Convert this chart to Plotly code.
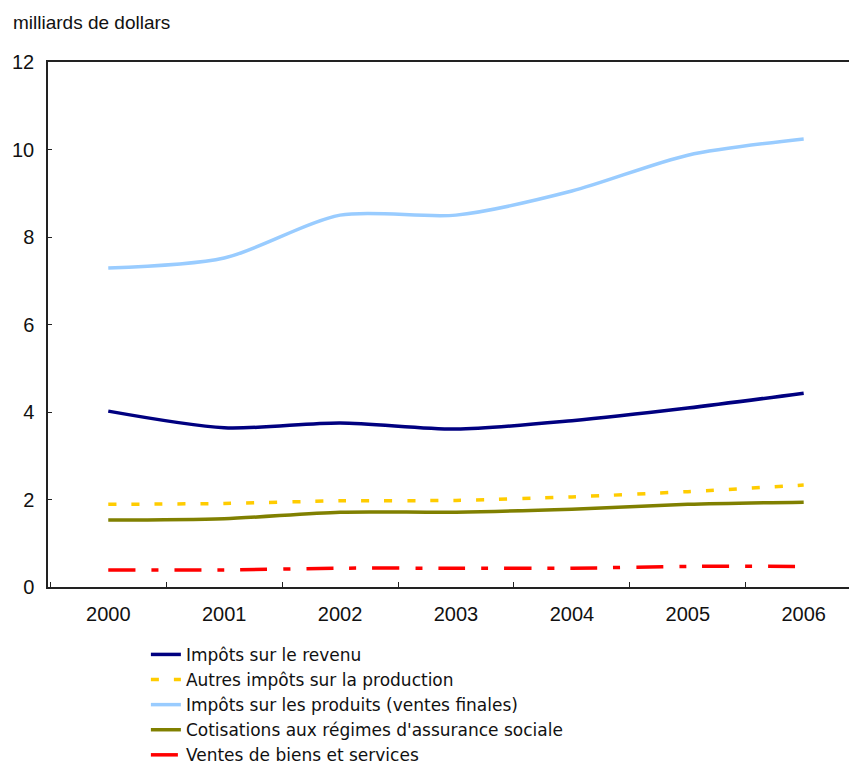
import plotly.graph_objects as go

years = ["2000", "2001", "2002", "2003", "2004", "2005", "2006"]
impots_revenu = [4.02, 3.64, 3.75, 3.61, 3.80, 4.09, 4.43]
autres_impots = [1.89, 1.91, 1.97, 1.98, 2.06, 2.18, 2.33]
impots_produits = [7.29, 7.52, 8.50, 8.50, 9.05, 9.87, 10.24]
cotisations = [1.53, 1.56, 1.71, 1.71, 1.78, 1.89, 1.94]
ventes = [0.39, 0.39, 0.43, 0.43, 0.43, 0.47, 0.47]

series = [
    ("Impôts sur le revenu", impots_revenu, "#000080", "solid"),
    ("Autres impôts sur la production", autres_impots, "#FFCC00", "8px,15px"),
    ("Impôts sur les produits (ventes finales)", impots_produits, "#99CCFF", "solid"),
    ("Cotisations aux régimes d'assurance sociale", cotisations, "#808000", "solid"),
    ("Ventes de biens et services", ventes, "#FF0000", "27px,16px,7px,16px"),
]

fig = go.Figure()
for name, vals, color, dash in series:
    fig.add_trace(go.Scatter(
        x=years, y=vals, name=name, mode="lines",
        line=dict(color=color, width=3.5, dash=dash, shape="spline", smoothing=0.8),
    ))

# page body has an 8px default margin; figure is sized/offset to compensate
fig.update_layout(
    width=849, height=756,
    margin=dict(l=40, r=0, t=54, b=177, autoexpand=False),
    paper_bgcolor="white", plot_bgcolor="white",
    font=dict(family="Liberation Sans, Arial, sans-serif", size=20, color="#111"),
    showlegend=True,
    legend=dict(
        x=0.121, y=-0.095, xanchor="left", yanchor="top",
        orientation="v", bgcolor="rgba(0,0,0,0)",
        font=dict(size=17, family="DejaVu Sans, sans-serif"),
        tracegroupgap=0, itemwidth=30,
    ),
    xaxis=dict(
        type="category", range=[-0.52, 6.46], automargin=False,
        showline=True, linecolor="#222", linewidth=1.5, mirror=True,
        ticks="inside", ticklen=5, tickcolor="#222", tickson="boundaries",
        showgrid=False, zeroline=False, ticklabelstandoff=8,
    ),
    yaxis=dict(
        range=[0, 12], tickvals=[0, 2, 4, 6, 8, 10, 12], automargin=False,
        showline=True, linecolor="#222", linewidth=1.5,
        ticks="inside", ticklen=4, tickcolor="#222",
        showgrid=False, zeroline=False, ticklabelstandoff=8,
    ),
    annotations=[dict(
        text="milliards de dollars", xref="paper", yref="paper",
        x=-0.046, y=1.076, xanchor="left", yanchor="middle",
        showarrow=False, font=dict(size=19),
    )],
)

fig.write_html("out.html")
